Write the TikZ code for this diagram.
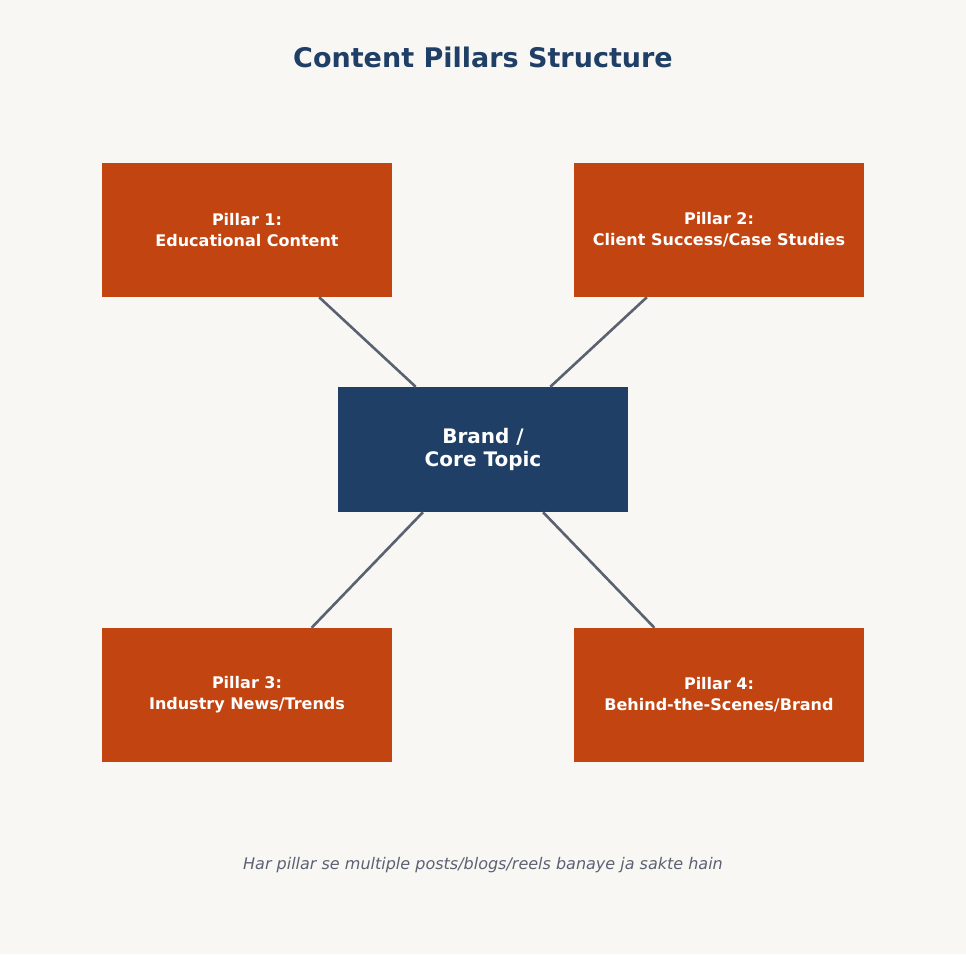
\documentclass[tikz,border=0pt]{standalone}
\usepackage{fontspec}
\setmainfont{DejaVu Sans}
\definecolor{page bg}{HTML}{F9F7F4}
\definecolor{pillar orange}{HTML}{C24511}
\definecolor{core navy}{HTML}{1F3F66}
\definecolor{link gray}{HTML}{5A6272}
\tikzset{
  pillar/.style={fill=pillar orange, minimum width=290pt, minimum height=134pt,
    text=white, align=center, font=\fontsize{16}{21}\selectfont\bfseries, inner sep=0pt},
  core/.style={fill=core navy, minimum width=290pt, minimum height=125pt,
    text=white, align=center, font=\fontsize{20}{23}\selectfont\bfseries, inner sep=0pt},
  link/.style={draw=link gray, line width=2.6pt}
}
\begin{document}
\begin{tikzpicture}[x=1pt,y=-1pt]
		% page
		\fill[page bg] (0, 0) rectangle (966, 954);
		\useasboundingbox (0, 0) rectangle (966, 954);
		% title
		\node (title) [text=core navy, font=\fontsize{27}{30}\selectfont\bfseries] at (483, 57) {Content Pillars Structure};
		% boxes
		\node (core) [core] at (483, 449.5) {Brand /\\Core Topic};
		\node (p1) [pillar] at (247, 230) {Pillar 1:\\Educational Content};
		\node (p2) [pillar] at (719, 230) {Pillar 2:\\Client Success/Case Studies};
		\node (p3) [pillar] at (247, 695) {Pillar 3:\\Industry News/Trends};
		\node (p4) [pillar] at (719, 695) {Pillar 4:\\Behind-the-Scenes/Brand};
		% links
		\foreach \p in {p1, p2, p3, p4}
			\draw[link] (\p) -- (core);
		% footer
		\node (note) [text=link gray, font=\fontsize{16}{19}\selectfont\itshape] at (483, 865) {Har pillar se multiple posts/blogs/reels banaye ja sakte hain};
	\end{tikzpicture}
\end{document}
